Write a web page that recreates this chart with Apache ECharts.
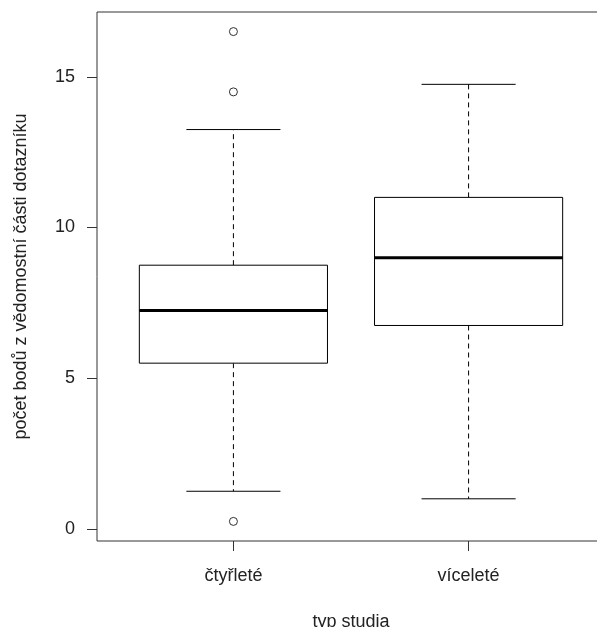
<!DOCTYPE html>
<html lang="cs">
  <head>
    <meta charset="UTF-8" />
    <title>boxplot</title>
    <style>
      body, html {
        margin: 0;
        width: 100%;
        height: 100%;
        background: #fff;
        overflow: hidden;
      }
    </style>
  </head>
  <body>
    <div id="main" style="width:620px;height:627px;"></div>

    <script src="https://cdn.jsdelivr.net/npm/echarts@6/dist/echarts.min.js"></script>
    <script>
      const categories = ['čtyřleté', 'víceleté'];
      const whiskerLow = [1.25, 1.0];
      const lowerQuartile = [5.5, 6.75];
      const medians = [7.25, 9.0];
      const upperQuartile = [8.75, 11.0];
      const whiskerHigh = [13.25, 14.75];
      // odlehlé hodnoty: index skupiny + hodnota
      const outlierGroup = [0, 0, 0];
      const outlierValues = [16.5, 14.5, 0.25];
      const yTicks = [0, 5, 10, 15];

      const font = 'Liberation Sans, Arial, sans-serif';
      const myChart = echarts.init(document.getElementById('main'));

      const boxData = categories.map((c, i) => [
        i + 1, whiskerLow[i], lowerQuartile[i], medians[i], upperQuartile[i], whiskerHigh[i]
      ]);

      function renderBox(params, api) {
        const x = api.value(0);
        const lo = api.value(1), q1 = api.value(2), med = api.value(3), q3 = api.value(4), hi = api.value(5);
        const bl = api.coord([x - 0.4, q1]);
        const br = api.coord([x + 0.4, q3]);
        const c = api.coord([x, med]);
        const mLeft = api.coord([x - 0.4, med]);
        const mRight = api.coord([x + 0.4, med]);
        const pLo = api.coord([x, lo]);
        const pHi = api.coord([x, hi]);
        const capL = api.coord([x - 0.2, lo])[0];
        const capR = api.coord([x + 0.2, lo])[0];
        const solid = { stroke: '#000', lineWidth: 1, fill: null };
        const dashed = { stroke: '#000', lineWidth: 1, lineDash: [5, 4] };
        return {
          type: 'group',
          children: [
            { type: 'line', shape: { x1: c[0], y1: bl[1], x2: c[0], y2: pLo[1] }, style: dashed },
            { type: 'line', shape: { x1: c[0], y1: br[1], x2: c[0], y2: pHi[1] }, style: dashed },
            { type: 'line', shape: { x1: capL, y1: pLo[1], x2: capR, y2: pLo[1] }, style: solid },
            { type: 'line', shape: { x1: capL, y1: pHi[1], x2: capR, y2: pHi[1] }, style: solid },
            {
              type: 'rect',
              shape: { x: bl[0], y: br[1], width: br[0] - bl[0], height: bl[1] - br[1] },
              style: { stroke: '#000', lineWidth: 1, fill: '#fff' }
            },
            { type: 'line', shape: { x1: mLeft[0], y1: c[1], x2: mRight[0], y2: c[1] }, style: { stroke: '#000', lineWidth: 3 } }
          ]
        };
      }

      const option = {
        animation: false,
        backgroundColor: '#fff',
        grid: {
          left: 97,
          top: 12,
          width: 508,
          height: 529,
          outerBoundsMode: 'none',
          show: true,
          borderColor: '#333',
          borderWidth: 1,
          backgroundColor: 'transparent'
        },
        xAxis: {
          type: 'value',
          min: 0.42,
          max: 2.58,
          name: 'typ studia',
          nameLocation: 'middle',
          nameGap: 72,
          nameTextStyle: { fontFamily: font, fontSize: 18, color: '#222' },
          splitLine: { show: false },
          axisLine: { show: false, onZero: false },
          axisTick: { show: true, length: 10, customValues: [1, 2], lineStyle: { color: '#333' } },
          axisLabel: {
            customValues: [1, 2],
            margin: 26,
            fontFamily: font,
            fontSize: 18,
            color: '#222',
            formatter: v => categories[Math.round(v) - 1] || ''
          }
        },
        yAxis: {
          type: 'value',
          min: -0.4,
          max: 17.15,
          name: 'počet bodů z vědomostní části dotazníku',
          nameLocation: 'middle',
          nameGap: 67,
          nameRotate: 90,
          nameTextStyle: { fontFamily: font, fontSize: 18, color: '#222' },
          splitLine: { show: false },
          axisLine: { show: false, onZero: false },
          axisTick: { show: true, length: 10, customValues: yTicks, lineStyle: { color: '#333' } },
          axisLabel: {
            customValues: yTicks,
            margin: 22,
            fontFamily: font,
            fontSize: 18,
            color: '#222'
          }
        },
        series: [
          {
            type: 'custom',
            renderItem: renderBox,
            data: boxData,
            clip: true
          },
          {
            type: 'scatter',
            symbol: 'circle',
            symbolSize: 8,
            itemStyle: { color: '#fff', borderColor: '#000', borderWidth: 1 },
            data: outlierValues.map((v, i) => [outlierGroup[i] + 1, v])
          }
        ]
      };

      myChart.setOption(option);
    </script>
  </body>
</html>
